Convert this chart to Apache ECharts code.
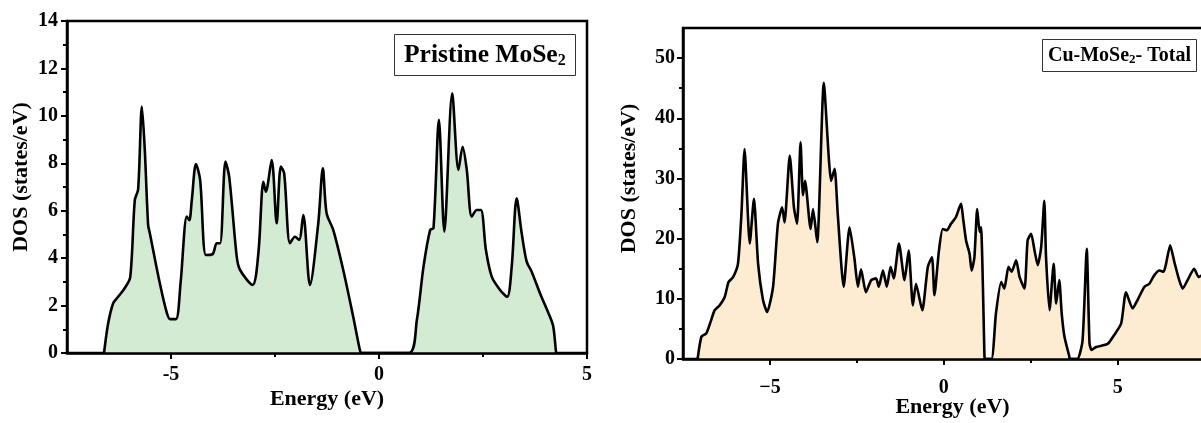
<!DOCTYPE html>
<html>
<head>
<meta charset="utf-8">
<script src="https://cdn.jsdelivr.net/npm/echarts/dist/echarts.min.js"></script>
<style>
html,body{margin:0;padding:0;background:#fff;}
#c{width:1201px;height:423px;}
</style>
</head>
<body>
<div id="c"></div>
<script>
// ---- Data ----
// Pristine MoSe2 : [energy (eV), DOS]
const pristineEnergy = [-6.61,-6.51,-6.39,-6.27,-6.11,-5.98,-5.87,-5.79,-5.70,-5.63,-5.55,-5.51,-5.27,-5.10,-5.02,-4.88,-4.77,-4.62,-4.56,-4.50,-4.40,-4.30,-4.16,-4.00,-3.90,-3.82,-3.69,-3.60,-3.42,-3.34,-3.04,-2.90,-2.78,-2.72,-2.58,-2.46,-2.36,-2.28,-2.14,-2.02,-1.92,-1.82,-1.66,-1.46,-1.35,-1.26,-1.10,-0.86,-0.62,-0.46,-0.42,0.72,0.91,1.07,1.23,1.31,1.44,1.57,1.76,1.91,2.01,2.11,2.23,2.35,2.45,2.57,2.71,2.91,3.08,3.19,3.31,3.43,3.55,3.67,3.87,4.11,4.19,4.25,4.26];
const pristineDos = [0,1.25,2.1,2.37,2.74,3.2,6.45,6.9,10.39,8.56,5.4,5.06,2.95,1.69,1.43,1.43,2.95,5.75,5.6,6.45,7.97,7.3,4.13,4.17,4.63,4.63,8.07,7.42,4.06,3.5,2.87,4.2,7.22,6.8,8.14,5.47,7.86,7.58,4.63,4.9,4.77,5.82,2.87,5.47,7.79,5.89,5.19,3.5,1.53,0.13,0,0,1.39,3.64,5.19,5.27,9.83,5.12,10.95,7.72,8.7,7.72,5.75,6.03,6.03,4.34,3.22,2.66,2.37,3.64,6.52,5.05,3.85,3.43,2.52,1.53,1.11,0.13,0];

// Cu-MoSe2 total : [energy (eV), DOS]
const cuEnergy = [-7.08,-6.97,-6.83,-6.69,-6.59,-6.45,-6.30,-6.19,-6.06,-5.92,-5.82,-5.73,-5.58,-5.46,-5.34,-5.20,-5.08,-4.91,-4.77,-4.65,-4.58,-4.43,-4.31,-4.22,-4.12,-4.05,-3.99,-3.83,-3.76,-3.64,-3.45,-3.24,-3.14,-3.05,-2.88,-2.71,-2.57,-2.47,-2.38,-2.24,-2.09,-1.95,-1.87,-1.75,-1.64,-1.53,-1.44,-1.29,-1.13,-1.01,-0.89,-0.80,-0.62,-0.46,-0.34,-0.27,-0.14,-0.03,0.09,0.21,0.35,0.45,0.50,0.55,0.64,0.74,0.80,0.88,0.96,1.03,1.07,1.17,1.18,1.37,1.50,1.65,1.74,1.86,1.95,2.08,2.18,2.32,2.41,2.51,2.61,2.70,2.80,2.89,2.94,3.04,3.16,3.23,3.32,3.39,3.47,3.61,3.62,3.84,3.99,4.11,4.19,4.25,4.38,4.71,4.90,5.10,5.24,5.43,5.57,5.77,5.91,6.05,6.20,6.32,6.39,6.51,6.63,6.77,6.87,7.01,7.20,7.33,7.50,7.70];
const cuDos = [0,3.7,4.25,6.46,8.1,8.9,10.3,12.8,13.6,15.8,24.1,34.9,19.2,26.6,15.8,9.8,7.8,12.0,22.5,25.2,22.7,33.8,25.2,22.5,36.0,27.2,29.6,21.6,24.9,19.4,45.9,29.6,31.6,24.1,12.0,21.9,16.7,12.0,14.9,11.1,13.1,13.4,12.0,14.7,12.0,15.3,13.4,19.2,13.1,18.0,8.9,12.5,8.1,15.3,16.9,10.6,18.0,21.6,21.4,22.5,23.6,25.2,25.8,23.6,19.7,17.5,14.7,16.9,24.9,21.1,21.9,0.4,0,0,7.6,12.8,11.7,15.3,14.5,16.4,13.6,11.7,19.7,20.8,18.0,15.6,18.6,26.3,16.9,8.1,15.8,9.2,13.1,7.6,3.7,0.4,0,0,3.1,18.3,2.6,1.5,2.0,2.5,4.0,5.9,11.1,8.4,9.8,12.0,12.5,13.9,14.7,14.5,15.8,18.9,16.1,13.1,11.7,13.1,15.0,13.6,14.2,13.0];

// Tick values
const leftXTicks = [-5, 0, 5];
const leftXMinor = [-2.5, 2.5];
const leftYTicks = [0, 2, 4, 6, 8, 10, 12, 14];
const leftYMinor = [1, 3, 5, 7, 9, 11, 13];
const rightXTicks = [-5, 0, 5];
const rightXMinor = [-2.5, 2.5];
const rightYTicks = [0, 10, 20, 30, 40, 50];
const rightYMinor = [5, 15, 25, 35, 45];

// ---- Chart ----
const FONT = "'Liberation Serif', 'Times New Roman', serif";
const zip = (a, b) => a.map((v, i) => [v, b[i]]);

const labelStyle = (size, margin) => ({
  fontFamily: FONT, fontWeight: 'bold', fontSize: size, color: '#000', margin: margin
});

function mainX(grid, min, max, ticks, fmt, margin, nameGap) {
  return {
    type: 'value', gridIndex: grid, min: min, max: max, position: 'bottom', z: 5,
    axisLine: { show: true, onZero: false, lineStyle: { color: '#000', width: 2.5 } },
    axisTick: { show: true, customValues: ticks, length: 6, lineStyle: { color: '#000', width: 2 } },
    axisLabel: Object.assign({ show: true, customValues: ticks, formatter: fmt }, labelStyle(20, margin)),
    splitLine: { show: false },
    name: 'Energy (eV)', nameLocation: 'middle', nameGap: nameGap, nameMoveOverlap: false,
    nameTextStyle: { fontFamily: FONT, fontWeight: 'bold', fontSize: 22, color: '#000' }
  };
}
function minorX(grid, min, max, ticks) {
  return {
    type: 'value', gridIndex: grid, min: min, max: max, position: 'bottom', z: 5,
    axisLine: { show: false, onZero: false },
    axisTick: { show: true, customValues: ticks, length: 4, lineStyle: { color: '#000', width: 2 } },
    axisLabel: { show: false }, splitLine: { show: false }
  };
}
function mainY(grid, min, max, ticks, margin, nameGap, pad) {
  return {
    type: 'value', gridIndex: grid, min: min, max: max, position: 'left', z: 5,
    axisLine: { show: true, onZero: false, lineStyle: { color: '#000', width: 2.5 } },
    axisTick: { show: true, customValues: ticks, length: 6, lineStyle: { color: '#000', width: 2 } },
    axisLabel: Object.assign({ show: true, customValues: ticks }, labelStyle(20, margin)),
    splitLine: { show: false },
    name: 'DOS (states/eV)', nameLocation: 'middle', nameGap: nameGap, nameRotate: 90, nameMoveOverlap: false,
    nameTextStyle: { fontFamily: FONT, fontWeight: 'bold', fontSize: 22, color: '#000', padding: pad }
  };
}
function minorY(grid, min, max, ticks) {
  return {
    type: 'value', gridIndex: grid, min: min, max: max, position: 'left', z: 5,
    axisLine: { show: false, onZero: false },
    axisTick: { show: true, customValues: ticks, length: 4, lineStyle: { color: '#000', width: 2 } },
    axisLabel: { show: false }, splitLine: { show: false }
  };
}

const chart = echarts.init(document.getElementById('c'), null, { renderer: 'canvas' });
chart.setOption({
  animation: false,
  backgroundColor: '#fff',
  grid: [
    { left: 67, top: 21, width: 520, height: 332, show: true, borderColor: '#000', borderWidth: 2.5, backgroundColor: 'transparent', outerBoundsMode: 'none', containLabel: false },
    { left: 683, top: 28, width: 539, height: 331, show: true, borderColor: '#000', borderWidth: 2.5, backgroundColor: 'transparent', outerBoundsMode: 'none', containLabel: false }
  ],
  title: [
    {
      left: 394, top: 33, padding: [7, 10, 7, 10],
      borderColor: '#333', borderWidth: 1, backgroundColor: '#fff',
      text: '{a|Pristine MoSe}{s|2}',
      textStyle: {
        rich: {
          a: { fontFamily: FONT, fontWeight: 'bold', fontSize: 25.5, color: '#000', lineHeight: 30 },
          s: { fontFamily: FONT, fontWeight: 'bold', fontSize: 16, color: '#000', lineHeight: 30, padding: [12, 0, 0, 0] }
        }
      }
    },
    {
      left: 1042, top: 39, padding: [5, 6, 5, 6],
      borderColor: '#333', borderWidth: 1, backgroundColor: '#fff',
      text: '{a|Cu-MoSe}{s|2}{a|- Total}',
      textStyle: {
        rich: {
          a: { fontFamily: FONT, fontWeight: 'bold', fontSize: 20, color: '#000', lineHeight: 23 },
          s: { fontFamily: FONT, fontWeight: 'bold', fontSize: 13, color: '#000', lineHeight: 23, padding: [9, 0, 0, 0] }
        }
      }
    }
  ],
  xAxis: [
    mainX(0, -7.5, 5, leftXTicks, v => String(v), 12, 35),
    minorX(0, -7.5, 5, leftXMinor),
    mainX(1, -7.5, 8, rightXTicks, v => String(v).replace('-', '\u2212'), 19, 37),
    minorX(1, -7.5, 8, rightXMinor)
  ],
  yAxis: [
    mainY(0, 0, 14, leftYTicks, 9, 35, [0, 0, 0, 20]),
    minorY(0, 0, 14, leftYMinor),
    mainY(1, 0, 55, rightYTicks, 8, 43, [0, 0, 0, 30]),
    minorY(1, 0, 55, rightYMinor)
  ],
  series: [
    {
      type: 'line', xAxisIndex: 0, yAxisIndex: 0, data: zip(pristineEnergy, pristineDos),
      symbol: 'none', smooth: 0.3, z: 2,
      lineStyle: { color: '#000', width: 2.6 },
      areaStyle: { color: '#d3ebd3', opacity: 1 }
    },
    {
      type: 'line', xAxisIndex: 2, yAxisIndex: 2, data: zip(cuEnergy, cuDos),
      symbol: 'none', smooth: 0.2, z: 2,
      lineStyle: { color: '#000', width: 2.6 },
      areaStyle: { color: '#fdebd2', opacity: 1 }
    }
  ]
});
</script>
</body>
</html>
